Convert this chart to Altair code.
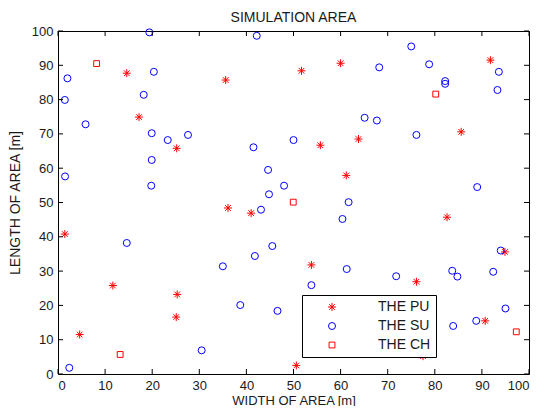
import altair as alt
import pandas as pd

# THE PU (asterisks)
pu_x = [14.6, 17.2, 35.6, 51.7, 60.0, 91.8, 85.6, 63.8, 25.2, 55.7, 61.2, 36.1, 41.0,
        1.45, 53.8, 82.6, 94.9, 11.65, 4.6, 25.3, 25.1, 50.6, 76.1, 90.7, 77.5]
pu_y = [87.7, 74.9, 85.7, 88.4, 90.6, 91.5, 70.6, 68.5, 65.8, 66.7, 57.9, 48.4, 46.9,
        40.8, 31.8, 45.7, 35.6, 25.8, 11.5, 23.2, 16.6, 2.5, 26.9, 15.5, 5.2]

# THE SU (circles)
su_x = [19.4, 2.0, 20.35, 18.2, 1.45, 5.85, 19.9, 23.3, 42.2, 27.6, 50.0, 75.0, 68.2,
        78.8, 82.2, 82.2, 93.6, 93.3, 65.1, 67.7, 76.1, 1.5, 19.9, 19.8, 14.6, 41.5,
        44.6, 48.0, 44.8, 61.7, 43.1, 60.4, 45.5, 41.8, 35.0, 61.3, 89.0, 94.0, 2.4,
        53.8, 38.7, 46.6, 30.5, 71.8, 83.7, 84.8, 92.4, 95.0, 88.8, 83.9]
su_y = [99.6, 86.2, 88.1, 81.4, 79.9, 72.8, 70.2, 68.2, 98.6, 69.7, 68.2, 95.5, 89.4,
        90.3, 85.4, 84.6, 88.1, 82.8, 74.7, 73.9, 69.7, 57.6, 62.4, 54.9, 38.2, 66.1,
        59.5, 54.9, 52.4, 50.1, 47.9, 45.2, 37.3, 34.4, 31.4, 30.6, 54.5, 36.0, 1.8,
        25.9, 20.1, 18.4, 6.9, 28.5, 30.1, 28.4, 29.8, 19.1, 15.5, 14.0]

# THE CH (squares)
ch_x = [8.2, 80.2, 49.95, 13.2, 97.3]
ch_y = [90.5, 81.6, 50.1, 5.7, 12.3]

ticks = [0, 10, 20, 30, 40, 50, 60, 70, 80, 90, 100]
categories = ["THE PU", "THE SU", "THE CH"]

W, H = 471, 343
FONT = "Liberation Sans"
STAR = "M-1,0L1,0M0,-1L0,1M-0.7071,-0.7071L0.7071,0.7071M-0.7071,0.7071L0.7071,-0.7071"

df = pd.concat([
    pd.DataFrame({"x": pu_x, "y": pu_y, "type": "THE PU"}),
    pd.DataFrame({"x": su_x, "y": su_y, "type": "THE SU"}),
    pd.DataFrame({"x": ch_x, "y": ch_y, "type": "THE CH"}),
], ignore_index=True)
tdf = pd.DataFrame({"t": ticks})

xscale = alt.Scale(domain=[0, 100], nice=False, zero=False)
yscale = alt.Scale(domain=[0, 100], nice=False, zero=False)
XT = "WIDTH OF AREA [m]"
YT = "LENGTH OF AREA [m]"
axis_style = dict(values=ticks, tickSize=0, domain=False, grid=False,
                  labelFont=FONT, labelFontSize=13, labelColor="#1a1a1a",
                  titleFont=FONT, titleFontWeight="normal",
                  titleColor="#1a1a1a")
xaxis = alt.Axis(labelPadding=5, titleBaseline="alphabetic", titleY=30,
                 titleFontSize=13, **axis_style)
yaxis = alt.Axis(labelPadding=5, titlePadding=9, titleFontSize=14, **axis_style)

leg = dict(title=None, orient="none", legendX=244, legendY=264,
           padding=5, strokeColor="black", fillColor="white",
           symbolOffset=18, labelOffset=39, rowPadding=5,
           labelFont=FONT, labelFontSize=14, labelColor="#1a1a1a",
           symbolSize=49, symbolStrokeWidth=1)

points = alt.Chart(df).mark_point(filled=False, strokeWidth=1, opacity=1).encode(
    x=alt.X("x:Q", scale=xscale, title=XT, axis=xaxis),
    y=alt.Y("y:Q", scale=yscale, title=YT, axis=yaxis),
    color=alt.Color("type:N", scale=alt.Scale(domain=categories,
                                                range=["#FF0000", "#0000FF", "#FF0000"]),
                    legend=alt.Legend(**leg)),
    shape=alt.Shape("type:N", scale=alt.Scale(domain=categories,
                                                range=[STAR, "circle", "square"]),
                    legend=alt.Legend(**leg)),
    size=alt.Size("type:N", scale=alt.Scale(domain=categories, range=[64, 34, 34]),
                  legend=None),
)

tick_len = 5
bottom = alt.Chart(tdf).mark_rule(color="black", strokeWidth=1).encode(
    x=alt.X("t:Q", scale=xscale, title=XT, axis=xaxis), y=alt.value(H), y2=alt.value(H - tick_len))
top = alt.Chart(tdf).mark_rule(color="black", strokeWidth=1).encode(
    x=alt.X("t:Q", scale=xscale, title=XT, axis=xaxis), y=alt.value(0), y2=alt.value(tick_len))
left = alt.Chart(tdf).mark_rule(color="black", strokeWidth=1).encode(
    y=alt.Y("t:Q", scale=yscale, title=YT, axis=yaxis), x=alt.value(0), x2=alt.value(tick_len))
right = alt.Chart(tdf).mark_rule(color="black", strokeWidth=1).encode(
    y=alt.Y("t:Q", scale=yscale, title=YT, axis=yaxis), x=alt.value(W), x2=alt.value(W - tick_len))

chart = alt.layer(points, bottom, top, left, right).properties(
    width=W, height=H,
    title=alt.TitleParams("SIMULATION AREA", font=FONT, fontSize=14, fontWeight="normal",
                          color="#1a1a1a", anchor="middle", offset=0),
    autosize="none",
    background="white",
    padding={"left": 50, "top": 23, "right": 2, "bottom": 32},
).configure_view(stroke="black", strokeWidth=1)

chart.save("out.html", embed_options={"renderer": "svg", "actions": False})
